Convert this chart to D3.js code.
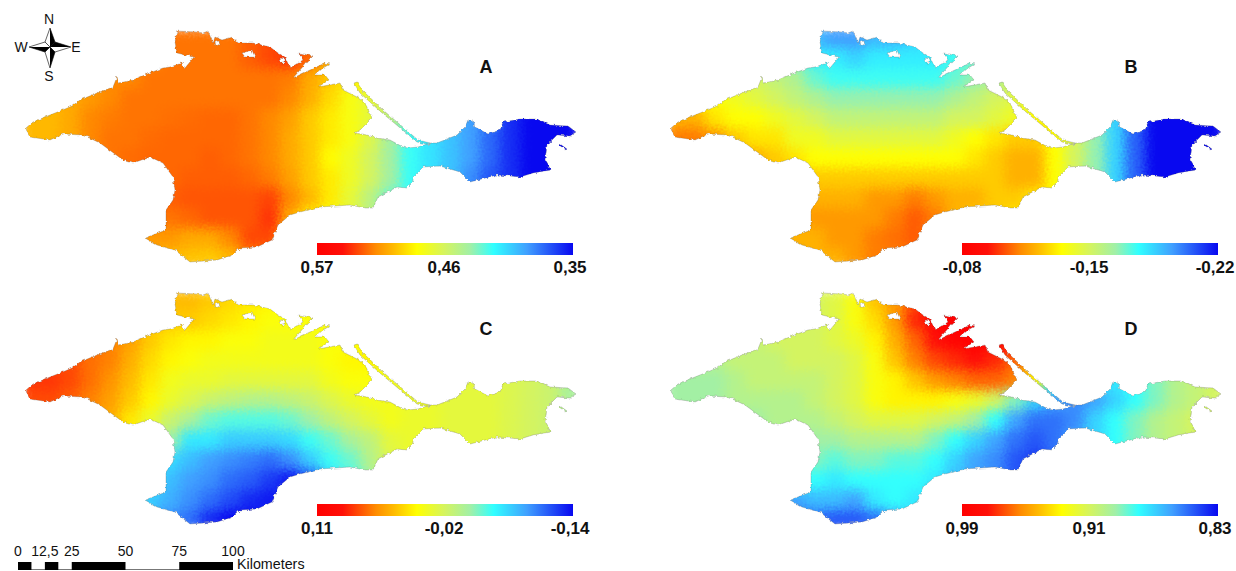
<!DOCTYPE html>
<html>
<meta charset="utf-8">
<script src="https://d3js.org/d3.v7.min.js"></script>
<style>
  body { margin: 0; background: #fff; }
  text { font-family: "Liberation Sans", Arial, sans-serif; fill: #111; }
</style>
<body>
<div id="my_dataviz"></div>
<script>

// grid the four rasters were read on (pixel position of cell edges, panel A frame)
var gridCols = d3.range(28), gridRows = d3.range(12);

// values, in hundredths, row by row from north to south
var valuesA = [
[51,51,51,51,51.5,51.5,52,52.5,52.5,52.5,52.5,53,53.5,54,53,51.5,50.5,49,47,44,42,40,39,38,36,35,35,35],
[51,51,51,51,51.5,52,52,52.5,52.5,52.5,52.5,53,53.5,54,52.8,51,50,48,46,44,41.5,40,39,38,36,35,35,35],
[51,51,51,51.5,52,52,52.5,52.5,52.5,52.5,52.5,52.5,52.5,52.3,51,50,49,47.5,46,44,41.5,40,39,38,36,35,35,35],
[50.5,50.5,51,51.5,52,52.5,52.5,52.5,52.5,52.5,52.5,52.5,52.5,52,50.8,49.5,48,47,45.5,44,41.5,40,39,38,36,35,35,35],
[50.5,50.5,51,52,52.3,52.5,52.5,52.6,52.7,52.8,52.8,52.5,52,51.3,50,49,48,47,45,43,41.5,40,39,38,36,35,35,35],
[50.5,50.5,51,52,52.5,52.5,52.7,52.8,52.8,52.8,52.8,52.5,52,51,50,49,48,46.5,44,42,41,40,39,37.5,36,35,35,35],
[51,51,51.5,52,52.5,52.7,52.8,52.8,52.8,53,52.8,52.5,52,51,50,48.5,47.5,46,44,42,41,40,39,37.5,36,35,35,35],
[51,51,51.5,52,52.3,52.5,52.8,52.8,53,53,53,52.8,52.3,51.3,50,49,47.5,46,44,42,41,40,38.5,37,36,35,35,35],
[52,52,52,52,52.3,52.5,52.8,53,53.2,53.2,53.2,53.2,53.6,52,50.5,49,47,45,43,42,41,40,38.5,37,36,35,35,35],
[52,52,52,52,52,52,52.3,52.5,52.8,53.2,53.2,53.2,54,51,49,48,47,45,43,42,41,40,38.5,37,36,35,35,35],
[51.5,51.5,51.5,51.5,51.5,51.5,51.5,51.5,51,51,52,53.5,53.5,48.5,48,48,47,45,43,42,41,40,38.5,37,36,35,35,35],
[51,51,51,51,51,51,51,50.5,50.2,50,50.5,52,52,48,48,48,47,45,43,42,41,40,38.5,37,36,35,35,35]
];
var valuesB = [
[-15,-15,-15.5,-15.5,-16,-16.5,-18,-19,-19.5,-19.5,-19,-19,-18.5,-18,-17.5,-17,-16.5,-16,-15,-14,-15,-17,-19,-20.5,-22,-22,-22,-22],
[-15,-15,-15,-15.5,-15.5,-16,-17,-18,-18,-18.5,-18,-18,-18,-18,-17.5,-17,-16.5,-15.5,-15,-14,-15,-17,-19,-20.5,-22,-22,-22,-22],
[-14,-14,-14,-14.5,-15,-15.5,-16,-17,-17.5,-17.5,-17.5,-17.5,-17.5,-17.5,-17,-16.5,-16,-15.5,-14.5,-14,-15,-17,-19,-20.5,-22,-22,-22,-22],
[-13,-13,-13.5,-14,-14.5,-15,-15.5,-16,-16.5,-16.5,-16.5,-16.5,-16.5,-16.5,-16,-15.5,-15,-14.5,-14,-14,-15,-17,-19,-20.5,-22,-22,-22,-22],
[-12,-12,-13,-13.5,-13.5,-14,-14.5,-15,-15.5,-15.5,-15.5,-15.5,-15.5,-15.5,-15,-15,-14.5,-14,-13.5,-13.5,-15,-17,-18.5,-20.5,-22,-22,-22,-22],
[-11,-11,-11.5,-12.5,-13,-13,-14,-14,-14.5,-14.5,-14.5,-14.5,-14.5,-14.5,-14,-13.5,-13,-12.5,-12.5,-13.5,-15,-16.5,-18.5,-20.5,-22,-22,-22,-22],
[-11,-11,-11.5,-11.5,-12,-12.5,-13,-13.5,-13.5,-13.5,-13.5,-13.5,-13.5,-13.5,-13.5,-13,-12.5,-12,-12,-13.5,-15,-16.5,-18.5,-20.5,-22,-22,-22,-22],
[-11.5,-11.5,-11.5,-12,-12,-12,-12,-12.5,-12.5,-12.5,-12.5,-12.5,-12.5,-12.5,-12.5,-12.5,-12.5,-12,-12,-13.5,-15,-16.5,-18.5,-20.5,-22,-22,-22,-22],
[-12,-12,-12,-12,-12,-12,-12,-12,-12,-12,-11.5,-11.5,-11,-11.5,-12,-12,-12.5,-12.5,-13,-13.5,-15,-16.5,-18.5,-20.5,-22,-22,-22,-22],
[-12,-12,-12,-12,-12,-12,-12,-11.5,-11.5,-11.5,-11.5,-11,-10.5,-11,-12,-12.5,-12.5,-13,-13,-13.5,-15,-16.5,-18.5,-20.5,-22,-22,-22,-22],
[-12,-12,-12,-12,-12,-12,-12,-12,-11.5,-11.5,-11,-10.8,-10.5,-11.5,-12,-12.5,-12.5,-13,-13,-13.5,-15,-16.5,-18.5,-20.5,-22,-22,-22,-22],
[-12,-12,-12,-12,-12,-12,-12,-12,-12,-11.5,-11,-11,-11,-11.5,-12,-12.5,-12.5,-13,-13,-13.5,-15,-16.5,-18.5,-20.5,-22,-22,-22,-22]
];
var valuesC = [
[6,6,6,6,5,4,4,3.5,3.5,3,2.5,2,1.5,1,1,1,1,1,.5,0,0,-.5,-.5,-.5,-1,-1.5,-2,-3],
[6,6,6,6,5,4,3.5,3,3,2.5,2,1.5,1,1,1,1,1,1,.5,0,0,-.5,-.5,-.5,-1,-1.5,-2,-3],
[7,7,6.5,6.5,5.5,4.5,3,2,1.5,1.5,1,1,.5,.5,.5,1,1,1,.5,0,0,-.5,-.5,-.5,-1,-1.5,-2,-3],
[7,7,7,6,5.5,4,2.5,1.5,1,.5,.5,.5,.5,.5,.5,1,1.5,1.5,.5,0,0,-.5,-.5,-.5,-1,-1.5,-2,-3],
[7.5,7.5,7,6,5,3.5,2,.5,0,0,-.5,-.5,-.5,-.5,-.5,.5,1,1,.5,0,0,-.5,-.5,-.5,-1,-1.5,-2,-3.5],
[7,7,6.5,5.5,4.5,3,1.5,0,-1,-2,-2.5,-3,-3,-2.5,-2,-1,0,.5,.5,0,0,-.5,-.5,-.5,-1,-1.5,-2,-3.5],
[6,6,5.5,5,4,2,0,-2,-3.5,-5,-5.5,-5.5,-5.5,-5,-4,-2.5,-1.5,-.5,.5,0,0,-.5,-.5,-.5,-1,-1.5,-2,-3.5],
[5,5,4,3,2,1,-1,-4,-7,-7,-8,-8,-8,-7.5,-6,-5,-3.5,-2.5,-.5,0,0,-.5,-.5,-.5,-1,-1.5,-2,-3.5],
[5,5,4,3,2,0,-5,-7.5,-8.5,-9.5,-10,-10.5,-11,-10,-8,-6,-5,-3,-1,0,0,-.5,-.5,-.5,-1,-1.5,-2,-3.5],
[5,5,4,3,0,-5,-7,-8.5,-9.5,-10,-11,-11.5,-12.5,-13.5,-12,-8,-6,-4,-1,0,0,-.5,-.5,-.5,-1,-1.5,-2,-3.5],
[5,5,4,3,0,-7,-8,-9,-10,-11,-12,-13,-13.5,-13.5,-11,-8,-6,-4,-1,0,0,-.5,-.5,-.5,-1,-1.5,-2,-3.5],
[5,5,4,3,0,-7,-9,-10,-11,-13,-14,-14,-13,-13,-11,-8,-6,-4,-1,0,0,-.5,-.5,-.5,-1,-1.5,-2,-3.5]
];
var valuesD = [
[91,91,91,91,91,91,91,91,91.5,92.5,94,95,96.5,98,99,99,99,99,98,88,88,88,87.5,88,89,90,91,91.5],
[91,91,91,91,91,91,91,91,91.5,92.5,93.5,95,97,98.5,99,99,99,99,98,88,88,88,87.5,88,89,90,91,91.5],
[90.5,90.5,90.5,90.5,90.5,91,91,91,91.5,92,93,94.5,96,97.5,98.5,99,98.5,98,96,88,88,88,87.5,88,89,90,91,91.5],
[90,90,90,90.5,90.5,90.5,91,91,91,91.5,92.5,94,95.5,96.5,97,97.5,97,96,94,88,88,88,87.5,88,89,90,91,91.5],
[89.5,89.5,89.5,90,90.5,90.5,90.5,90.5,91,91.5,92.5,93,94,95,95.5,96,96,95.5,93,88,87,87,87.5,88,89,90,90.5,91],
[89.5,89.5,89.5,90,90,90,90,90.5,91,91.5,92.5,93,93,93,92.5,92,91,89,87,86,85.5,86,87,88,89,90,90.5,91],
[89.5,89.5,89.5,89.5,89.5,90,90,90,90.5,91,91.5,91.5,91.5,91,90.5,89.5,88,86,85,85,85.5,87,88,89,90,90.5,91,91],
[89.5,89.5,89.5,89.5,89.5,89.5,89.5,89.5,89.5,90,90,90,90,89,88,87,86,85,84.5,85,86,87,88,89,90,90.5,91,91],
[89,89,89,89,89,89,89,89,88.5,89,89,88.5,88.5,88,87,86,85.5,84.5,84,85,86,87,88,89,90,90.5,91,91],
[88,88,88,88,88,88,88,88,87.5,88,88,88,88,87.5,86.5,86,85.5,84.5,84,85,86,87,88,89,90,90.5,91,91],
[86,86,86,86,86,86,86,86.5,86.5,86,87.5,88,87.5,87,86.5,86,85.5,84.5,84,85,86,87,88,89,90,90.5,91,91],
[85,85,85,85,85,85,85,85,84.5,84.5,85,86,87,87,86.5,86,85.5,84.5,84,85,86,87,88,89,90,90.5,91,91]
];

// colour bar ends, in hundredths as well, and their printed labels
var panelNames = ["A", "B", "C", "D"];
var panelValues = [valuesA, valuesB, valuesC, valuesD];
var barDomains = [[57, 35], [-8, -22], [11, -14], [99, 83]];
var barLabels = [["0,57", "0,46", "0,35"], ["-0,08", "-0,15", "-0,22"], ["0,11", "-0,02", "-0,14"], ["0,99", "0,91", "0,83"]];

// colour ramp as seen on the bars
var rampStops = [0, 0.1, 0.23, 0.3, 0.39, 0.5, 0.6, 0.69, 0.82, 1];
var rampColors = ["#ff0000", "#ff1008", "#ff8c00", "#ffbb00", "#ffff00", "#d4f460", "#a0f0a8", "#30ffff", "#40a0ff", "#0808f0"];

// coast of the peninsula
var coast = [[26,128],[33,122],[50,115],[65,109],[72,106],[80,100],[97,93],[113,87],[117,77],[119,83],[133,80],[147,74],[163,68],[170,67],[182,63],[185,68],[194,57],[177,53],[175,42],[177,31],[197,32],[203,33],[208,31],[213,43],[215,37],[222,40],[233,37],[238,43],[253,43],[270,47],[278,53],[285,57],[290,68],[298,63],[303,60],[299,53],[312,56],[307,62],[293,78],[310,70],[325,63],[330,64],[323,68],[315,75],[325,75],[329,80],[318,87],[340,83],[343,90],[357,97],[365,103],[372,118],[365,125],[360,130],[355,133],[367,135],[377,138],[390,140],[403,147],[408,148],[418,147],[430,143],[437,143],[457,135],[465,127],[468,120],[473,120],[475,127],[488,134],[500,130],[503,122],[520,119],[537,119],[550,125],[568,126],[576,132],[570,136],[557,135],[547,145],[545,160],[551,170],[533,173],[520,177],[497,175],[470,182],[460,172],[440,166],[423,167],[412,178],[414,181],[407,188],[397,187],[378,197],[373,208],[365,208],[350,205],[320,207],[300,212],[290,215],[278,225],[272,240],[257,247],[240,248],[233,255],[217,260],[190,262],[175,250],[157,245],[145,238],[166,230],[166,210],[173,200],[175,190],[173,177],[163,163],[150,157],[133,163],[123,160],[100,143],[83,135],[63,134],[50,140],[30,137],[27,132]];
var arabatSpit = [[354,83],[357,82],[362,90],[383,110],[418,140],[430,143],[429,144.5],[417,142],[381,112],[360,93]];
var smallIsle = [[560,144],[567,149],[566,150],[559,145]];
var lagoons = [[[242,53],[252,50],[255,57],[245,57]], [[280,58],[285,59],[285,63],[281,63]], [[215,42],[219,41],[220,44],[216,46]]];

// compass and scale bar
var compassBlack = [[[50,28],[55,42],[50,47]], [[50,68],[55,52],[50,47]], [[29,47],[45,52],[50,47]], [[71,47],[55,42],[50,47]]];
var compassLine = [[[50,28],[55,42],[50,47],[45,42]], [[50,68],[45,52],[50,47],[55,52]], [[29,47],[45,42],[50,47],[45,52]], [[71,47],[55,52],[50,47],[55,42]]];
var compassLetters = [["N",49,24],["S",49,81],["W",21,52],["E",76,52]];
var kmTicks = [0, 12.5, 25, 50, 75, 100];
var kmLabels = ["0", "12,5", "25", "50", "75", "100"];
var kmBlack = [[0, 6.25], [12.5, 18.75], [25, 50], [75, 100]];

var width = 1236, height = 571;
var svg = d3.select("#my_dataviz").append("svg")
    .attr("width", width).attr("height", height)
    .style("display", "block");

var defs = svg.append("defs");

// smooths the cells and breaks them up like the noisy raster
var raster = defs.append("filter").attr("id", "raster")
    .attr("filterUnits", "userSpaceOnUse")
    .attr("x", 0).attr("y", 0).attr("width", 620).attr("height", 300)
    .attr("color-interpolation-filters", "sRGB");
raster.append("feGaussianBlur").attr("in", "SourceGraphic").attr("stdDeviation", 6).attr("result", "soft");
raster.append("feTurbulence").attr("type", "fractalNoise").attr("baseFrequency", 0.45).attr("numOctaves", 1).attr("seed", 3).attr("result", "noise");
raster.append("feDisplacementMap").attr("in", "soft").attr("in2", "noise").attr("scale", 9)
    .attr("xChannelSelector", "R").attr("yChannelSelector", "G");

// frays the coast a little
var rough = defs.append("filter").attr("id", "rough")
    .attr("filterUnits", "userSpaceOnUse")
    .attr("x", 0).attr("y", 0).attr("width", 620).attr("height", 300);
rough.append("feTurbulence").attr("type", "fractalNoise").attr("baseFrequency", 0.28).attr("numOctaves", 2).attr("seed", 8).attr("result", "noise");
rough.append("feDisplacementMap").attr("in", "SourceGraphic").attr("in2", "noise").attr("scale", 3.5)
    .attr("xChannelSelector", "R").attr("yChannelSelector", "G");

var line = d3.line();
var landPath = [coast, arabatSpit, smallIsle].concat(lagoons).map(function(d) { return line(d) + "Z"; }).join(" ");

defs.append("mask").attr("id", "land")
    .attr("maskUnits", "userSpaceOnUse")
    .attr("x", 0).attr("y", 0).attr("width", 620).attr("height", 300)
  .append("path").attr("d", landPath)
    .attr("fill", "#fff").attr("fill-rule", "evenodd").attr("filter", "url(#rough)");

var x = d3.scaleBand().domain(gridCols).range([20, 580]);
var y = d3.scaleBand().domain(gridRows).range([28, 268]);
var ramp = d3.scaleLinear().domain(rampStops).range(rampColors).interpolate(d3.interpolateRgb).clamp(true);

var offsets = [[0, 0], [645, 0], [0, 262], [645, 262]];
var barX = d3.scaleLinear().domain([0, 1]).range([317, 573]);
var barY = [243, 243, 242, 242];

// colour bar gradient
var gradient = defs.append("linearGradient").attr("id", "bar");
rampStops.forEach(function(s, i) {
  gradient.append("stop").attr("offset", s).attr("stop-color", rampColors[i]);
});

panelNames.forEach(function(name, p) {
  var g = svg.append("g")
      .attr("transform", "translate(" + offsets[p][0] + "," + offsets[p][1] + ")");
  var t = d3.scaleLinear().domain(barDomains[p]).range([0, 1]);

  g.append("g").attr("mask", "url(#land)")
    .append("g").attr("filter", "url(#raster)")
    .selectAll("g")
    .data(panelValues[p])
    .enter().append("g")
      .attr("transform", function(d, j) { return "translate(0," + y(j) + ")"; })
    .selectAll("rect")
    .data(function(d) { return d; })
    .enter().append("rect")
      .attr("x", function(d, i) { return x(i); })
      .attr("width", x.bandwidth() + 0.5)
      .attr("height", y.bandwidth() + 0.5)
      .attr("fill", function(d) { return ramp(t(d)); });

  // faint dark coast line
  g.append("path").attr("d", landPath)
    .attr("fill", "none").attr("stroke", "#555").attr("stroke-width", 0.5).attr("stroke-opacity", 0.5)
    .attr("filter", "url(#rough)");

  g.append("text").attr("x", 486).attr("y", 72.5)
    .attr("text-anchor", "middle").attr("font-size", 18).attr("font-weight", "bold")
    .text(name);

  g.append("rect")
    .attr("x", barX(0)).attr("y", barY[p])
    .attr("width", barX(1) - barX(0)).attr("height", 12)
    .attr("fill", "url(#bar)");

  g.selectAll(".lbl").data(barLabels[p]).enter().append("text")
    .attr("class", "lbl")
    .attr("x", function(d, i) { return [317, 444, 570][i]; })
    .attr("y", barY[p] + 29.5)
    .attr("text-anchor", "middle").attr("font-size", 17).attr("font-weight", "bold")
    .text(function(d) { return d; });
});

// compass
var compass = svg.append("g");
compass.selectAll(".arm").data(compassLine).enter().append("path")
    .attr("d", function(d) { return line(d) + "Z"; })
    .attr("fill", "#fff").attr("stroke", "#222").attr("stroke-width", 0.7);
compass.selectAll(".half").data(compassBlack).enter().append("path")
    .attr("d", function(d) { return line(d) + "Z"; })
    .attr("fill", "#000");
compass.selectAll("text").data(compassLetters).enter().append("text")
    .attr("x", function(d) { return d[1]; })
    .attr("y", function(d) { return d[2]; })
    .attr("text-anchor", "middle").attr("font-size", 14)
    .text(function(d) { return d[0]; });

// scale bar
var km = d3.scaleLinear().domain([0, 100]).range([18, 233]);
var scaleBar = svg.append("g");
scaleBar.append("rect").attr("x", km(0)).attr("y", 569).attr("width", km(100) - km(0)).attr("height", 1).attr("fill", "#777");
scaleBar.selectAll("rect.seg").data(kmBlack).enter().append("rect")
    .attr("class", "seg")
    .attr("x", function(d) { return km(d[0]); })
    .attr("y", 562)
    .attr("width", function(d) { return km(d[1]) - km(d[0]); })
    .attr("height", 8)
    .attr("fill", "#000");
scaleBar.selectAll("text.km").data(kmTicks).enter().append("text")
    .attr("class", "km")
    .attr("x", function(d) { return km(d); })
    .attr("y", 556)
    .attr("text-anchor", "middle").attr("font-size", 14)
    .text(function(d, i) { return kmLabels[i]; });
scaleBar.append("text").attr("x", 237).attr("y", 568.5).attr("font-size", 14.3).text("Kilometers");

</script>
</body>
</html>
